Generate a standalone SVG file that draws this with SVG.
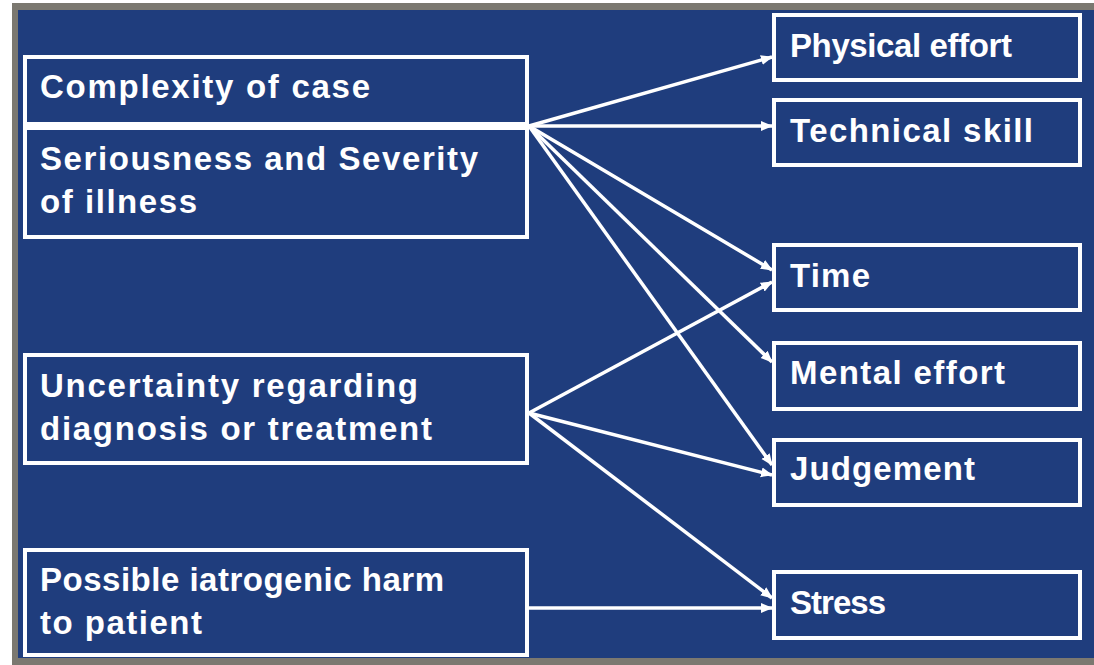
<svg xmlns="http://www.w3.org/2000/svg" width="1094" height="665" viewBox="0 0 1094 665">
<style>
.box{fill:none;stroke:#ffffff;stroke-width:4}
.t{font-family:"Liberation Sans",Arial,sans-serif;font-weight:bold;font-size:33px;fill:#ffffff}
.c{fill:none;stroke:#ffffff;stroke-width:3.5;marker-end:url(#ah)}
</style>
<defs>
<marker id="ah" markerUnits="userSpaceOnUse" markerWidth="12" markerHeight="12" viewBox="0 0 12 12" refX="11" refY="6" orient="auto">
<path d="M0,1 L12,6 L0,11 Z" fill="#ffffff"/>
</marker>
</defs>
<rect x="0" y="0" width="1094" height="665" fill="#ffffff"/>
<rect x="12" y="3" width="1082" height="662" fill="#7b7870"/>
<rect x="18" y="10" width="1076" height="648" fill="#1f3d7d"/>

<g id="connectors">
<line class="c" x1="529" y1="126" x2="772" y2="57"/>
<line class="c" x1="529" y1="126" x2="772" y2="126"/>
<line class="c" x1="529" y1="126" x2="772" y2="270"/>
<line class="c" x1="529" y1="126" x2="772" y2="362"/>
<line class="c" x1="529" y1="126" x2="772" y2="465"/>
<line class="c" x1="529" y1="413" x2="772" y2="282"/>
<line class="c" x1="529" y1="413" x2="772" y2="475"/>
<line class="c" x1="529" y1="413" x2="772" y2="598"/>
<line class="c" x1="527" y1="608" x2="772" y2="608"/>
</g>

<g id="n-complexity">
<rect class="box" x="25" y="57" width="502" height="67"/>
<text class="t" x="40" y="98" textLength="330" lengthAdjust="spacing">Complexity of case</text>
</g>
<g id="n-seriousness">
<rect class="box" x="25" y="128" width="502" height="109"/>
<text class="t" x="40" y="170" textLength="438" lengthAdjust="spacing">Seriousness and Severity</text>
<text class="t" x="40" y="213" textLength="157" lengthAdjust="spacing">of illness</text>
</g>
<g id="n-uncertainty">
<rect class="box" x="25" y="355" width="502" height="108"/>
<text class="t" x="40" y="397" textLength="378" lengthAdjust="spacing">Uncertainty regarding</text>
<text class="t" x="40" y="440" textLength="392" lengthAdjust="spacing">diagnosis or treatment</text>
</g>
<g id="n-harm">
<rect class="box" x="25" y="550" width="502" height="105"/>
<text class="t" x="40" y="591" textLength="404" lengthAdjust="spacing">Possible iatrogenic harm</text>
<text class="t" x="40" y="634" textLength="162" lengthAdjust="spacing">to patient</text>
</g>

<g id="n-physical">
<rect class="box" x="774" y="15" width="306" height="65"/>
<text class="t" x="790" y="57" textLength="222" lengthAdjust="spacing">Physical effort</text>
</g>
<g id="n-technical">
<rect class="box" x="774" y="100" width="306" height="65"/>
<text class="t" x="790" y="142" textLength="243" lengthAdjust="spacing">Technical skill</text>
</g>
<g id="n-time">
<rect class="box" x="774" y="245" width="306" height="65"/>
<text class="t" x="790" y="287" textLength="80" lengthAdjust="spacing">Time</text>
</g>
<g id="n-mental">
<rect class="box" x="774" y="343" width="306" height="66"/>
<text class="t" x="790" y="384" textLength="215" lengthAdjust="spacing">Mental effort</text>
</g>
<g id="n-judgement">
<rect class="box" x="774" y="440" width="306" height="65"/>
<text class="t" x="790" y="480" textLength="185" lengthAdjust="spacing">Judgement</text>
</g>
<g id="n-stress">
<rect class="box" x="774" y="572" width="306" height="66"/>
<text class="t" x="790" y="614" textLength="96" lengthAdjust="spacing">Stress</text>
</g>
</svg>
